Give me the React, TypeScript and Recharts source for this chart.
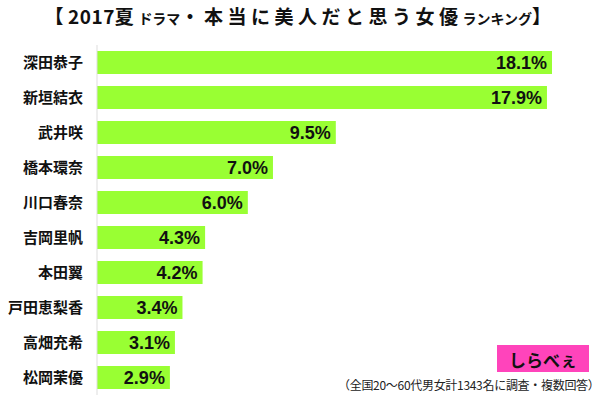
import { BarChart, Bar, XAxis, YAxis, LabelList } from 'recharts';

const actresses = ['深田恭子', '新垣結衣', '武井咲', '橋本環奈', '川口春奈', '吉岡里帆', '本田翼', '戸田恵梨香', '高畑充希', '松岡茉優'];
const shares = [18.1, 17.9, 9.5, 7.0, 6.0, 4.3, 4.2, 3.4, 3.1, 2.9];

const data = actresses.map((name, i) => ({ name, value: shares[i] }));

const jpFont = '"Noto Sans CJK JP", "Noto Sans", sans-serif';

const App = () => {
  return (
    <div style={{ position: 'absolute', left: 0, top: 0, width: 600, height: 400, background: '#fff', fontFamily: jpFont }}>
      {/* title */}
      <div
        style={{
          position: 'absolute',
          top: 2,
          left: 0,
          width: 600,
          textAlign: 'center',
          fontSize: 19,
          fontWeight: 'bold',
          color: '#111',
          letterSpacing: 4.5,
        }}
      >
        【<span style={{ letterSpacing: 0.5 }}>2017</span>夏<span style={{ fontSize: 14, letterSpacing: 0 }}>ドラマ</span>・本当に美人だと思う女優<span style={{ fontSize: 14, letterSpacing: 0 }}>ランキング</span>】
      </div>

      <BarChart
        width={600}
        height={400}
        data={data}
        layout="vertical"
        margin={{ top: 45, right: 48, bottom: 5, left: 0 }}
        barSize={23}
      >
        <XAxis type="number" hide domain={[0, 18.1]} />
        <YAxis
          type="category"
          dataKey="name"
          width={97}
          axisLine={{ stroke: '#dddddd' }}
          tickLine={false}
          tickMargin={8}
          tick={{ fill: '#111', fontSize: 15, fontWeight: 'bold', fontFamily: jpFont }}
        />
        <Bar dataKey="value" fill="#99ff33" isAnimationActive={false}>
          <LabelList
            dataKey="value"
            position="insideRight"
            offset={5}
            formatter={(v: number) => `${v.toFixed(1)}%`}
            style={{ fill: '#111', fontSize: 18, fontWeight: 'bold', fontFamily: '"Liberation Sans", Arial, sans-serif' }}
          />
        </Bar>
      </BarChart>

      {/* logo */}
      <div
        style={{
          position: 'absolute',
          left: 497,
          top: 345,
          width: 92,
          height: 27,
          background: '#ff44bb',
          color: '#111',
          fontSize: 17,
          fontWeight: 'bold',
          lineHeight: '30px',
          textAlign: 'center',
        }}
      >
        しらべぇ
      </div>

      {/* footnote */}
      <div style={{ position: 'absolute', left: 338, top: 376, fontSize: 12, color: '#222', letterSpacing: -0.3 }}>
        （全国20～60代男女計1343名に調査・複数回答）
      </div>
    </div>
  );
};

export default App;
